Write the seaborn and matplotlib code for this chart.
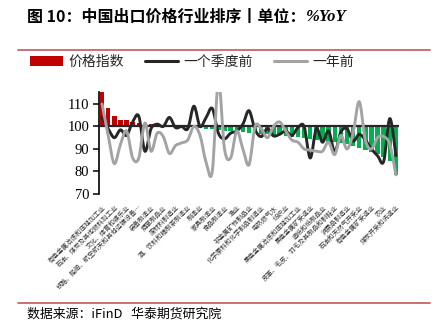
import numpy as np
import pandas as pd
import matplotlib
matplotlib.use("Agg")
import matplotlib.pyplot as plt
import seaborn as sns
from matplotlib.path import Path
from matplotlib.patches import PathPatch, Patch
from matplotlib.lines import Line2D

# ---------------- data ----------------
industries = [
    "有色金属冶炼和压延加工业", "金属制品业",
    "石油、煤炭及其他燃料加工业", "通用设备制造业",
    "文化、体育和娱乐业", "电气机械和器材制造业",
    "铁路、船舶、航空航天和其他运输设备…", "计算机、通信和其他电子设备制造业",
    "装备制造业", "仪器仪表制造业",
    "烟草制品业", "医药制造业",
    "废材料制造业", "橡胶和塑料制品业",
    "酒、饮料和精制茶制造业", "印刷和记录媒介复制业",
    "制造业", "木材加工业",
    "家具制造业", "农副食品加工业",
    "食品制造业", "纺织服装、服饰业",
    "渔业", "化学纤维制造业",
    "非金属矿物制品业", "汽车制造业",
    "化学原料和化学制品制造业", "专用设备制造业",
    "电热燃气水", "其他制造业",
    "纺织业", "林业",
    "黑色金属冶炼和压延加工业", "畜牧业",
    "黑色金属矿采选业", "非金属矿采选业",
    "造纸和纸制品业", "废弃资源综合利用业",
    "皮革、毛皮、羽毛及其制品和制鞋业", "金属制品、机械和设备修理业",
    "消费品制造业", "开采专业及辅助性活动",
    "石油和天然气开采业", "其他采矿业",
    "有色金属矿采选业", "电力、热力生产和供应业",
    "农业", "燃气生产和供应业",
    "煤炭开采和洗选业",
]
price_index = [
    115.5, 108.2, 104.7, 103.0, 102.9, 101.9, 101.6, 101.1, 101.0, 100.6,
    100.3, 100.1, 99.8, 99.6, 99.5, 99.3, 99.1, 98.9, 98.7, 98.5,
    98.2, 97.9, 97.6, 97.4, 97.1, 96.9, 96.7, 96.5, 96.2, 96.0,
    95.7, 95.4, 95.1, 94.8, 94.5, 94.1, 93.7, 93.3, 93.0, 92.5,
    92.0, 91.3, 90.5, 89.7, 88.8, 87.8, 86.5, 84.5, 78.5,
]
quarter_ago = [
    104.0, 99.0, 95.0, 98.5, 96.0, 102.0, 104.5, 89.0, 99.0, 101.0,
    100.0, 104.0, 99.5, 100.0, 99.0, 109.0, 100.0, 104.0, 108.0, 97.0,
    94.5, 97.0, 98.0, 101.0, 107.0, 98.5, 95.5, 99.0, 95.8, 96.5,
    98.0, 96.0, 99.5, 100.0, 86.0, 99.0, 93.0, 98.0, 88.8, 97.5,
    99.0, 93.5, 96.5, 94.0, 90.0, 87.0, 84.5, 103.5, 87.0,
]
year_ago = [
    110.0, 96.0, 83.5, 92.0, 98.0, 86.0, 86.0, 101.5, 89.0, 97.0,
    95.5, 88.0, 91.5, 92.7, 94.0, 100.0, 96.0, 84.0, 80.0, 120.0,
    90.0, 86.0, 98.0, 90.0, 83.0, 100.0, 99.0, 95.0, 100.0, 102.0,
    98.0, 94.0, 93.0, 90.0, 89.5, 89.0, 89.0, 93.0, 87.5, 96.0,
    90.0, 97.0, 111.0, 94.0, 90.0, 95.0, 95.5, 92.0, 78.5,
]
series_names = ["价格指数", "一个季度前", "一年前"]
y_ticks = [70, 80, 90, 100, 110]
title_main = "图 10：中国出口价格行业排序丨单位："
title_unit = "%YoY"
source = "数据来源：iFinD   华泰期货研究院"

RED = "#C00000"
GREEN = "#00B050"
BLACK = "#262626"
GRAY = "#A3A3A3"

# ---------------- style ----------------
sns.set_theme(style="white")
plt.rcParams["font.family"] = ["Noto Sans CJK SC", "DejaVu Sans"]

W, H = 444, 327
fig = plt.figure(figsize=(W / 100, H / 100), dpi=100)
ax = fig.add_axes([99 / W, 1 - 194 / H, 300 / W, 102 / H])

pi = np.array(price_index)
df = pd.DataFrame({
    "industry": industries,
    "delta": pi - 100,
    "sign": np.where(pi >= 100, "up", "down"),
})
sns.barplot(data=df, x="industry", y="delta", hue="sign",
            palette={"up": RED, "down": GREEN}, dodge=False, legend=False,
            width=0.72, saturation=1, bottom=100, ax=ax, zorder=2,
            linewidth=0, edgecolor="none")


def smooth_path(xs, ys):
    pts = np.column_stack([xs, ys]).astype(float)
    n = len(pts)
    verts = [pts[0]]
    codes = [Path.MOVETO]
    for i in range(n - 1):
        p0 = pts[i - 1] if i > 0 else pts[i]
        p1 = pts[i]
        p2 = pts[i + 1]
        p3 = pts[i + 2] if i + 2 < n else pts[i + 1]
        verts += [p1 + (p2 - p0) / 6, p2 - (p3 - p1) / 6, p2]
        codes += [Path.CURVE4] * 3
    return Path(verts, codes)


xs = np.arange(len(industries))
for vals, col, z in [(quarter_ago, BLACK, 4), (year_ago, GRAY, 5)]:
    patch = PathPatch(smooth_path(xs, vals), fill=False, edgecolor=col,
                      lw=2.1, capstyle="round", joinstyle="round", zorder=z)
    ax.add_patch(patch)

ax.axhline(100, color=BLACK, lw=1.6, zorder=3)

ax.set_xlim(-0.5, len(industries) - 0.5)
ax.set_ylim(70, 115.3)
ax.set_yticks(y_ticks)
ax.set_yticklabels([str(t) for t in y_ticks], fontfamily="Liberation Serif",
                   fontsize=10.5)
ax.set_xticks(xs[::2])
ax.set_xticklabels(industries[::2], rotation=45, ha="right", va="top",
                   rotation_mode="anchor", fontsize=4.7, color="#333333")
ax.tick_params(axis="x", length=0, pad=7)
ax.tick_params(axis="y", length=4, width=1.1, color="black", direction="out",
               left=True, pad=3, labelcolor="black")
ax.set_xlabel("")
ax.set_ylabel("")
for s in ["top", "right", "bottom"]:
    ax.spines[s].set_visible(False)
ax.spines["left"].set_color("black")
ax.spines["left"].set_linewidth(1.2)

# legend
handles = [Patch(facecolor=RED, edgecolor="none"),
           Line2D([], [], color=BLACK, lw=2.2),
           Line2D([], [], color=GRAY, lw=2.2)]
fig.legend(handles, series_names, loc="center",
           bbox_to_anchor=(192 / W, 1 - 62 / H), ncol=3, frameon=False,
           fontsize=10, handlelength=2.4, handletextpad=0.4,
           columnspacing=1.5)

# title, rules, source
t1 = fig.text(27 / W, 1 - 17 / H, title_main, fontsize=11.5,
              fontweight="bold", va="center", ha="left", color="black")
fig.canvas.draw()
bb = t1.get_window_extent()
fig.text(bb.x1 / fig.bbox.width, 1 - 17 / H, title_unit, fontsize=12,
         fontweight="bold", fontstyle="italic", fontfamily="Liberation Serif",
         va="center", ha="left", color="black")
RULE = "#C86464"
fig.add_artist(Line2D([18 / W, 430 / W], [1 - 50 / H] * 2, color=RULE, lw=1.3))
fig.add_artist(Line2D([18 / W, 430 / W], [1 - 303 / H] * 2, color=RULE, lw=1.3))
fig.text(27 / W, 1 - 314 / H, source, fontsize=9.3, va="center", ha="left",
         color="black")

fig.savefig("out.png", dpi=100)
